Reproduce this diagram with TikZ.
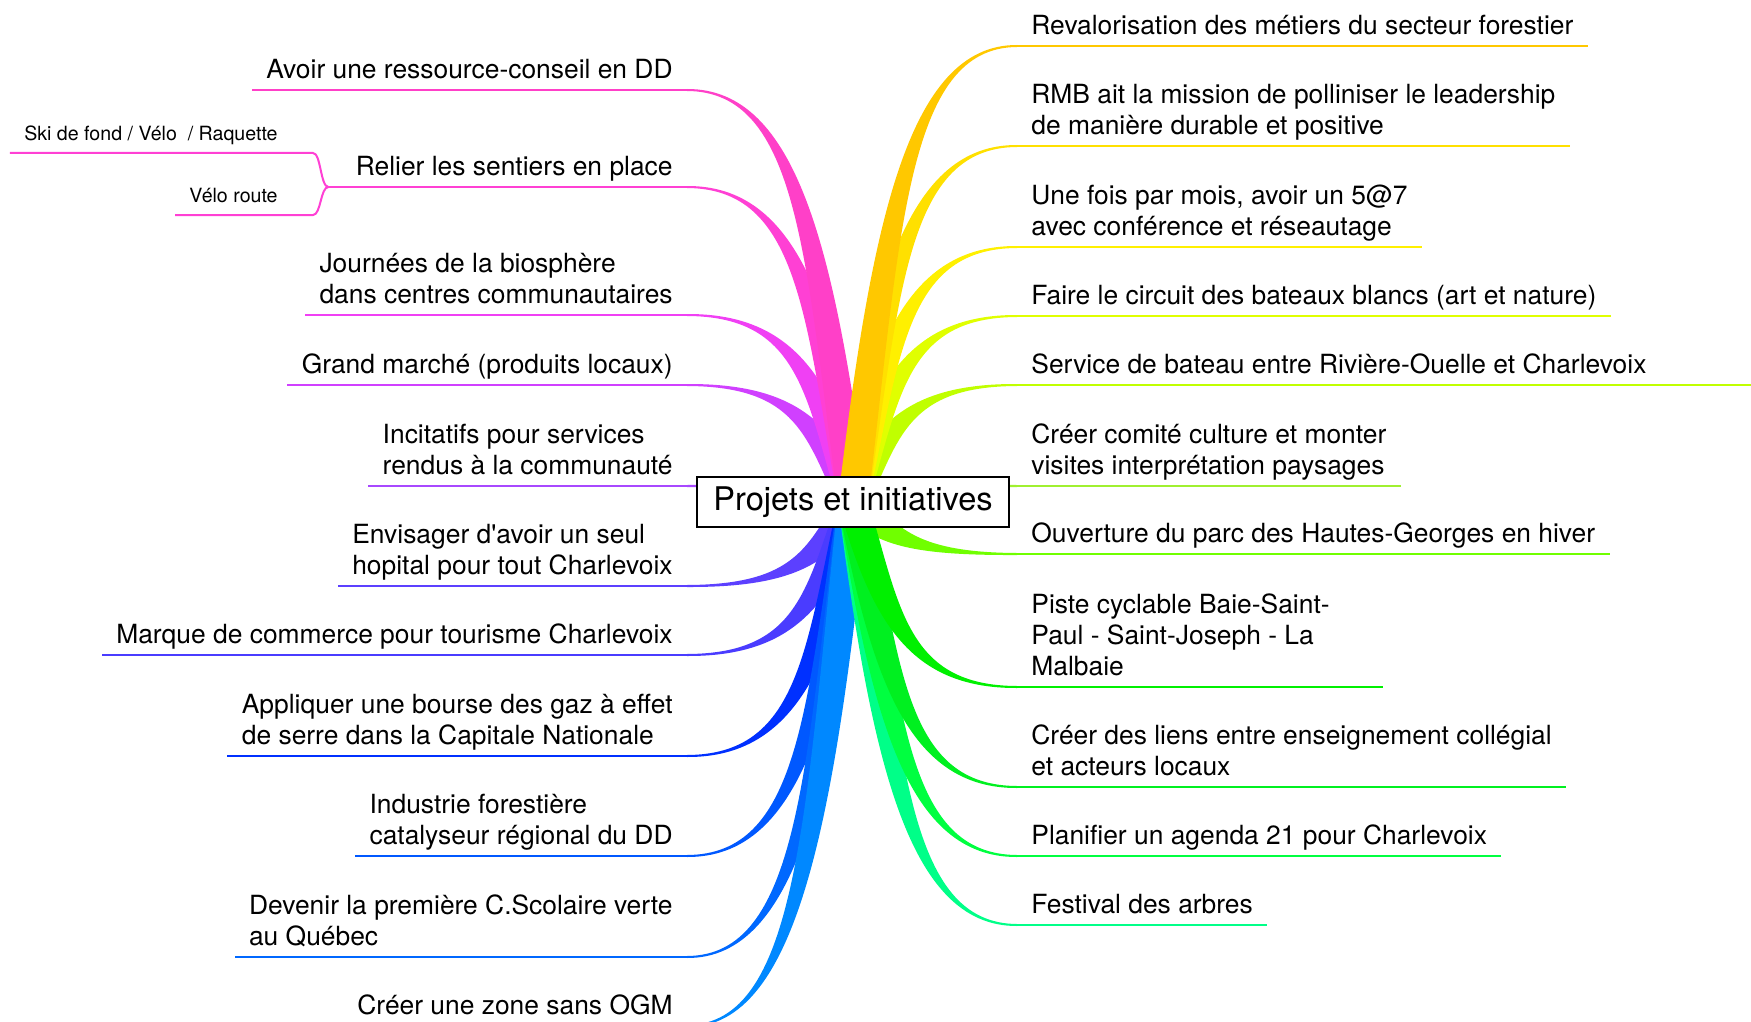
\documentclass[tikz,border=0pt]{standalone}
\usepackage{fontspec}
\setmainfont{TeX Gyre Heros}
\usetikzlibrary{calc,backgrounds}

\definecolor{cl1}{HTML}{FF40C8}
\definecolor{cl2}{HTML}{FF40D4}
\definecolor{cl3}{HTML}{F040F4}
\definecolor{cl4}{HTML}{D040FF}
\definecolor{cl5}{HTML}{A848FF}
\definecolor{cl6}{HTML}{5C40FF}
\definecolor{cl7}{HTML}{4A3CFF}
\definecolor{cl8}{HTML}{0030FF}
\definecolor{cl9}{HTML}{0058FF}
\definecolor{cl10}{HTML}{0068FF}
\definecolor{cl11}{HTML}{0088FF}
\definecolor{cr1}{HTML}{FFC800}
\definecolor{cr2}{HTML}{FFE000}
\definecolor{cr3}{HTML}{FFF000}
\definecolor{cr4}{HTML}{E0FF00}
\definecolor{cr5}{HTML}{C0FF00}
\definecolor{cr6}{HTML}{A0F030}
\definecolor{cr7}{HTML}{70FF00}
\definecolor{cr8}{HTML}{00F000}
\definecolor{cr9}{HTML}{00F020}
\definecolor{cr10}{HTML}{00FF40}
\definecolor{cr11}{HTML}{00FF88}

\tikzset{
  idea/.style={font=\fontsize{13.2}{15.5}\selectfont, align=left, inner xsep=7pt, inner ysep=5.5pt, text depth=0pt},
  lidea/.style={idea, anchor=south east},
  ridea/.style={idea, anchor=south west},
  subidea/.style={lidea, font=\fontsize{9.8}{12}\selectfont, inner ysep=6pt},
  topic/.style={draw, fill=white, line width=0.7pt, minimum width=156pt, minimum height=25pt, inner sep=0pt, font=\fontsize{16.3}{19}\selectfont}
}

\newcommand\branch[3]{%
  \coordinate (e) at (#2);
  \coordinate (p) at ($(root)!0.2!(e)$);
  \coordinate (q) at ($(root)!0.6!(e)$);
  \coordinate (k1) at (p |- q);
  \coordinate (p) at ($(e)!0.67!(root)$);
  \coordinate (k2) at (p |- e);
  \fill[#1] ($(root)!7.5pt!90:(k1)$) .. controls ($(k1)!7.5pt!-90:(root)$) and ($(k2)!0.75pt!90:(e)$) .. ($(e)!0.5pt!-90:(k2)$)
    -- ($(e)!0.5pt!90:(k2)$) .. controls ($(k2)!0.75pt!-90:(e)$) and ($(k1)!7.5pt!90:(root)$) .. ($(root)!7.5pt!-90:(k1)$) -- cycle;
  \draw[#1, line width=1pt] (e) -- (#3);
}

\begin{document}
\begin{tikzpicture}[x=0.5pt, y=-0.5pt]
    \useasboundingbox (0,0) rectangle (1751,1022);
    \node[topic] (root) at (853,502) {Projets et initiatives};

    \node[lidea] (l1) at (687,90) {Avoir une ressource-conseil en DD};
    \node[lidea] (l2) at (687,187) {Relier les sentiers en place};
    \node[subidea] (s1) at (292,153) {Ski de fond / Vélo \ / Raquette};
    \node[subidea] (s2) at (292,215) {Vélo route};
    \node[lidea] (l3) at (687,315) {Journées de la biosphère\\dans centres communautaires};
    \node[lidea] (l4) at (687,385) {Grand marché (produits locaux)};
    \node[lidea] (l5) at (687,486) {Incitatifs pour services\\rendus à la communauté};
    \node[lidea] (l6) at (687,586) {Envisager d\textquotesingle avoir un seul\\hopital pour tout Charlevoix};
    \node[lidea] (l7) at (687,655) {Marque de commerce pour tourisme Charlevoix};
    \node[lidea] (l8) at (687,756) {Appliquer une bourse des gaz à effet\\de serre dans la Capitale Nationale};
    \node[lidea] (l9) at (687,856) {Industrie forestière\\catalyseur régional du DD};
    \node[lidea] (l10) at (687,957) {Devenir la première C.Scolaire verte\\au Québec};
    \node[lidea] (l11) at (687,1026) {Créer une zone sans OGM};

    \node[ridea] (r1) at (1017,46) {Revalorisation des métiers du secteur forestier};
    \node[ridea] (r2) at (1017,146) {RMB ait la mission de polliniser le leadership\\de manière durable et positive};
    \node[ridea] (r3) at (1017,247) {Une fois par mois, avoir un 5@7\\avec conférence et réseautage};
    \node[ridea] (r4) at (1017,316) {Faire le circuit des bateaux blancs (art et nature)};
    \node[ridea] (r5) at (1017,385) {Service de bateau entre Rivière-Ouelle et Charlevoix};
    \node[ridea] (r6) at (1017,486) {Créer comité culture et monter\\visites interprétation paysages};
    \node[ridea] (r7) at (1017,554) {Ouverture du parc des Hautes-Georges en hiver};
    \node[ridea] (r8) at (1017,687) {Piste cyclable Baie-Saint-\\Paul - Saint-Joseph - La\\Malbaie};
    \node[ridea] (r9) at (1017,787) {Créer des liens entre enseignement collégial\\et acteurs locaux};
    \node[ridea] (r10) at (1017,856) {Planifier un agenda 21 pour Charlevoix};
    \node[ridea] (r11) at (1017,925) {Festival des arbres};

    \coordinate (l2j) at ($(l2.south west)+(-13,0)$);
    \coordinate (r5x) at (1760,385);
    \coordinate (r8x) at ($(r8.south west)+(366,0)$);

    \begin{scope}[on background layer]
    \branch{cl5}{l5.south east}{l5.south west}
    \branch{cl4}{l4.south east}{l4.south west}
    \branch{cl3}{l3.south east}{l3.south west}
    \branch{cl2}{l2.south east}{l2j}
    \branch{cl1}{l1.south east}{l1.south west}
    \branch{cr6}{r6.south west}{r6.south east}
    \branch{cr5}{r5.south west}{r5x}
    \branch{cr4}{r4.south west}{r4.south east}
    \branch{cr3}{r3.south west}{r3.south east}
    \branch{cr2}{r2.south west}{r2.south east}
    \branch{cr1}{r1.south west}{r1.south east}
    \branch{cl6}{l6.south east}{l6.south west}
    \branch{cl7}{l7.south east}{l7.south west}
    \branch{cl8}{l8.south east}{l8.south west}
    \branch{cl9}{l9.south east}{l9.south west}
    \branch{cl10}{l10.south east}{l10.south west}
    \branch{cl11}{l11.south east}{l11.south west}
    \branch{cr7}{r7.south west}{r7.south east}
    \branch{cr11}{r11.south west}{r11.south east}
    \branch{cr10}{r10.south west}{r10.south east}
    \branch{cr9}{r9.south west}{r9.south east}
    \branch{cr8}{r8.south west}{r8x}
    \end{scope}

    \draw[cl2, line width=1pt] (l2j) .. controls +(-8,0) and +(8,0) .. ($(s1.south east)+(21,0)$) -- (s1.south west);
    \draw[cl2, line width=1pt] (l2j) .. controls +(-8,0) and +(8,0) .. ($(s2.south east)+(21,0)$) -- (s2.south west);
\end{tikzpicture}
\end{document}
